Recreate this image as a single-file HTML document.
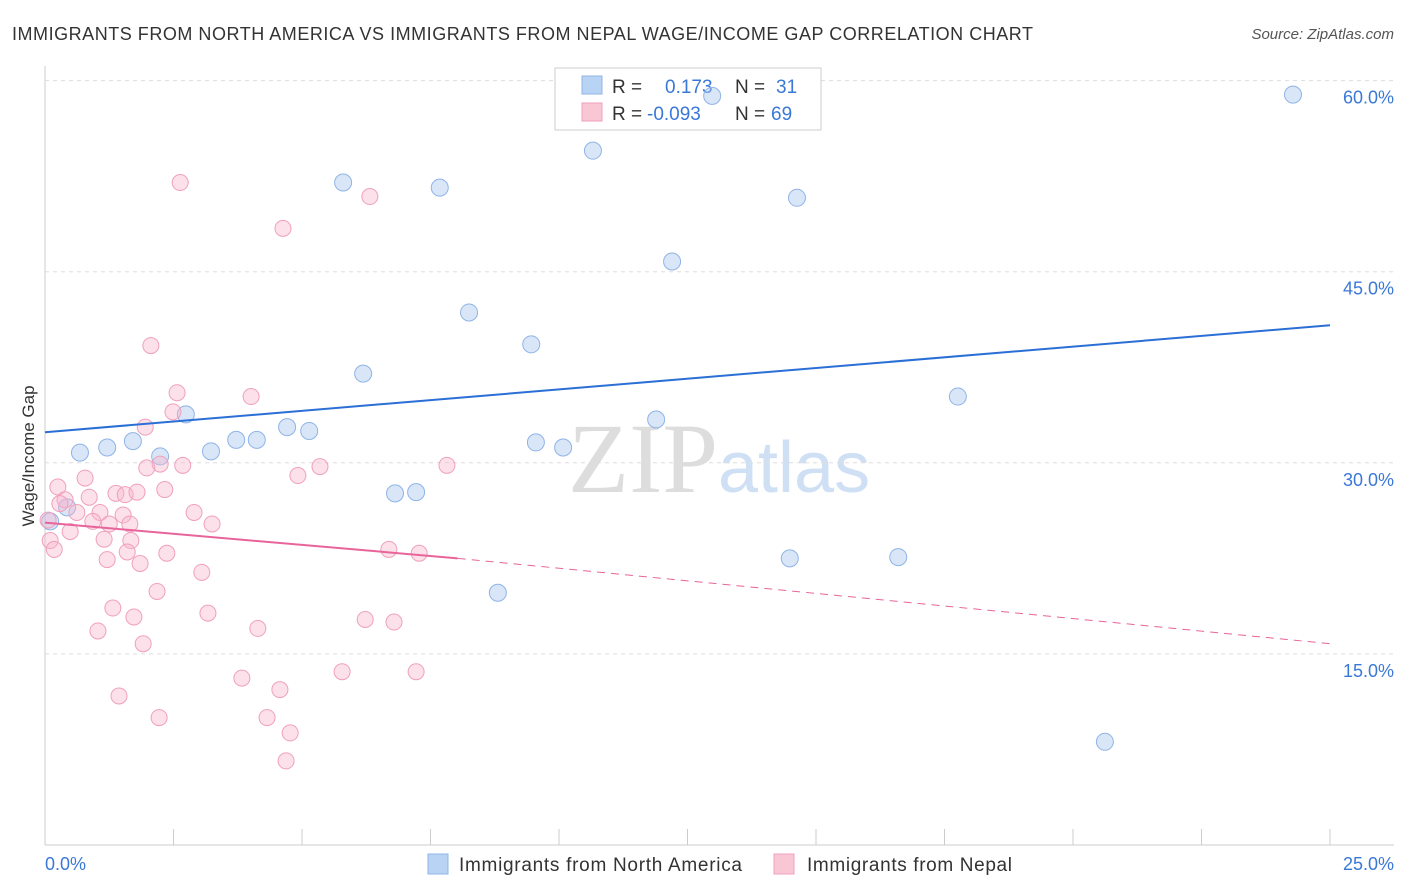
<!DOCTYPE html>
<html><head><meta charset="utf-8"><style>
body{margin:0;background:#fff;font-family:"Liberation Sans",sans-serif;}
svg{display:block}
</style></head><body>
<svg id="chart" width="1406" height="892">
<text x="12" y="40" font-size="18" fill="#333" textLength="1021">IMMIGRANTS FROM NORTH AMERICA VS IMMIGRANTS FROM NEPAL WAGE/INCOME GAP CORRELATION CHART</text>
<text x="1394" y="39" font-size="15" fill="#555" font-style="italic" text-anchor="end">Source: ZipAtlas.com</text>
<text x="34" y="456" font-size="17" fill="#333" text-anchor="middle" transform="rotate(-90 34 456)">Wage/Income Gap</text>
<text x="718" y="492" font-size="100" fill="#ddd" text-anchor="end" font-family="Liberation Serif,serif">ZIP</text>
<text x="718" y="492" font-size="72" fill="#cfe0f5">atlas</text>
<g id="grid"></g>
<g>
<rect x="555" y="68" width="266" height="62" fill="#fff" stroke="#ccc"/>
<rect x="582" y="76" width="20" height="18" fill="#b9d3f5" stroke="#8fb4e6"/>
<rect x="582" y="103" width="20" height="18" fill="#f9c6d6" stroke="#f0a0bb"/>
<text x="612" y="93" font-size="19" fill="#333">R = </text><text x="665" y="93" font-size="19" fill="#3a78d8">0.173</text>
<text x="735" y="93" font-size="19" fill="#333">N = </text><text x="776" y="93" font-size="19" fill="#3a78d8">31</text>
<text x="612" y="120" font-size="19" fill="#333">R = </text><text x="647" y="120" font-size="19" fill="#3a78d8">-0.093</text>
<text x="735" y="120" font-size="19" fill="#333">N = </text><text x="771" y="120" font-size="19" fill="#3a78d8">69</text>
</g>
<g id="marks"></g>
<g>
<rect x="428" y="854" width="20" height="20" fill="#b9d3f5" stroke="#8fb4e6"/>
<text x="459" y="871" font-size="19" fill="#333" textLength="283">Immigrants from North America</text>
<rect x="774" y="854" width="20" height="20" fill="#f9c6d6" stroke="#f0a0bb"/>
<text x="807" y="871" font-size="19" fill="#333" textLength="205">Immigrants from Nepal</text>
</g>
<text x="45" y="870" font-size="18" fill="#3a78d8">0.0%</text>
<text x="1394" y="870" font-size="18" fill="#3a78d8" text-anchor="end">25.0%</text>
</svg>
<script>
const yTicks=[15,30,45,60];
const blueX=[0.68,1.21,1.71,2.24,2.74,3.23,3.72,4.12,4.71,5.14,5.80,6.19,6.81,7.22,7.68,8.25,8.81,9.46,9.55,10.08,10.66,11.89,12.20,12.98,14.49,14.63,16.60,17.76,20.62,24.28,0.10,0.43];
const blueY=[30.8,31.2,31.7,30.5,33.8,30.9,31.8,31.8,32.8,32.5,52.0,37.0,27.6,27.7,51.6,41.8,19.8,39.3,31.6,31.2,54.5,33.4,45.8,58.8,22.5,50.8,22.6,35.2,8.1,58.9,25.4,26.5];
const pinkX=[2.63,4.63,6.32,2.06,2.57,4.01,2.49,1.95,2.24,2.68,1.98,5.35,7.82,0.78,4.92,0.25,2.33,1.38,1.56,1.79,0.86,0.39,0.29,2.90,0.62,1.07,1.52,0.93,1.25,3.25,1.65,0.49,0.10,1.15,1.67,0.18,1.60,2.37,6.69,7.28,1.21,1.85,3.05,2.18,1.32,3.17,1.73,6.23,6.79,1.03,4.14,1.91,5.78,7.22,3.83,4.57,1.44,2.22,4.32,4.77,4.69,0.06];
const pinkY=[52.0,48.4,50.9,39.2,35.5,35.2,34.0,32.8,29.9,29.8,29.6,29.7,29.8,28.8,29.0,28.1,27.9,27.6,27.5,27.7,27.3,27.1,26.8,26.1,26.1,26.1,25.9,25.4,25.2,25.2,25.2,24.6,23.9,24.0,23.9,23.2,23.0,22.9,23.2,22.9,22.4,22.1,21.4,19.9,18.6,18.2,17.9,17.7,17.5,16.8,17.0,15.8,13.6,13.6,13.1,12.2,11.7,10.0,10.0,8.8,6.6,25.5];
const blueTrend=[32.4,40.8];
const pinkTrend=[25.3,22.5,15.8];
const pinkSolidEnd=8.03;
const X=v=>45+v*51.4, Y=v=>845-v*12.74;
const NS="http://www.w3.org/2000/svg";
function mk(tag,attrs,parent){const e=document.createElementNS(NS,tag);for(const k in attrs)e.setAttribute(k,attrs[k]);parent.appendChild(e);return e;}
const grid=document.getElementById('grid'), marks=document.getElementById('marks');
const ax=mk('line',{x1:45,y1:66,x2:45,y2:845,stroke:'#ccc'},grid);


const bx=mk('line',{x1:45,y1:845,x2:1394,y2:845,stroke:'#ccc'},grid);


for(let i=1;i<=10;i++){const t=mk('line',{x1:X(i*2.5),y1:829,x2:X(i*2.5),y2:845,stroke:'#ccc'},grid);

}
yTicks.forEach(v=>{const g=mk('line',{x1:45,y1:Y(v),x2:1394,y2:Y(v),stroke:'#ddd','stroke-dasharray':'4,4'},grid);


const t=mk('text',{x:1394,y:Y(v)+23,'font-size':18,fill:'#3a78d8','text-anchor':'end'},grid);t.textContent=v.toFixed(1)+'%';

});
blueX.forEach((x,i)=>{const c=mk('circle',{cx:X(x),cy:Y(blueY[i]),r:8.5,fill:'rgba(170,200,240,0.45)',stroke:'#8fb4e6','stroke-width':1},marks);

});
pinkX.forEach((x,i)=>{const c=mk('circle',{cx:X(x),cy:Y(pinkY[i]),r:8,fill:'rgba(248,180,205,0.4)',stroke:'#f0a0bb','stroke-width':1},marks);

});
const bl=mk('line',{x1:X(0),y1:Y(blueTrend[0]),x2:X(25),y2:Y(blueTrend[1]),stroke:'#2a6fd6','stroke-width':2},marks);


const pl=mk('line',{x1:X(0),y1:Y(pinkTrend[0]),x2:X(pinkSolidEnd),y2:Y(pinkTrend[1]),stroke:'#e8649a','stroke-width':2},marks);


const pd=mk('line',{x1:X(pinkSolidEnd),y1:Y(pinkTrend[1]),x2:X(25),y2:Y(pinkTrend[2]),stroke:'#e8649a','stroke-width':1,'stroke-dasharray':'8,6'},marks);


</script>
</body></html>
